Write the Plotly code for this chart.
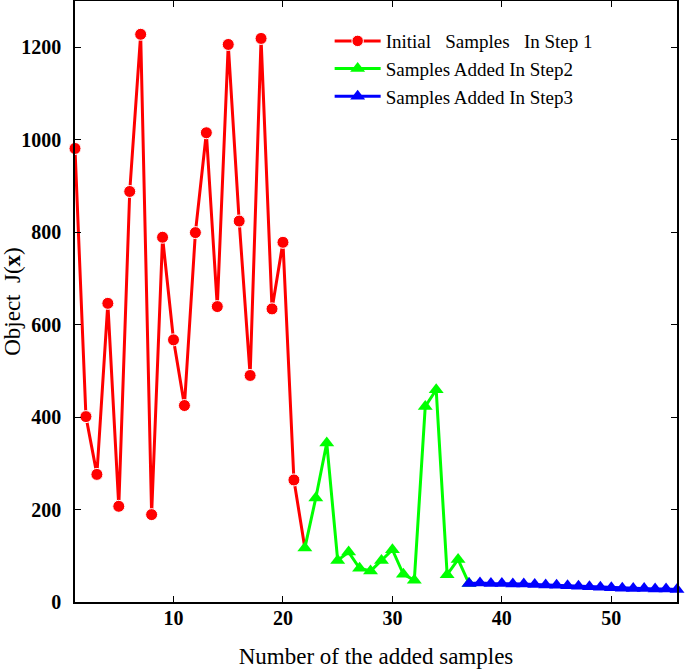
import plotly.graph_objects as go

# Step 1 (initial samples)
x_step1 = list(range(1, 23))
y_step1 = [981, 401, 276, 646, 207, 888, 1228, 189, 789, 567, 425,
           799, 1015, 639, 1206, 824, 490, 1219, 634, 778, 264, 117]

# Step 2 (added samples)
x_step2 = list(range(22, 38))
y_step2 = [117, 225, 344, 90, 108, 73, 67, 90, 113, 60, 47,
           423, 459, 59, 92, 40]

# Step 3 (added samples)
x_step3 = list(range(37, 57))
y_step3 = [40, 41, 40, 40, 39, 39, 38, 37, 36, 35,
           34, 33, 32, 31, 30, 29, 29, 28, 28, 27]

x_ticks = [10, 20, 30, 40, 50]
y_ticks = [0, 200, 400, 600, 800, 1000, 1200]

names = ["Initial\u00a0\u00a0\u00a0Samples\u00a0\u00a0\u00a0In Step 1",
         "Samples Added In Step2",
         "Samples Added In Step3"]

font_family = "Liberation Serif, Times New Roman, serif"

# the last step-1 point is the joint with step 2: no circle drawn there
red_sizes = [12] * (len(x_step1) - 1) + [0]

fig = go.Figure()
fig.add_trace(go.Scatter(
    x=x_step1, y=y_step1, mode="lines+markers", name=names[0],
    line=dict(color="#ff0000", width=3),
    marker=dict(symbol="circle", size=red_sizes, color="#ff0000", opacity=1),
    cliponaxis=False))
fig.add_trace(go.Scatter(
    x=x_step2, y=y_step2, mode="lines+markers", name=names[1],
    line=dict(color="#00ff00", width=3),
    marker=dict(symbol="triangle-up", size=13, color="#00ff00"),
    cliponaxis=False))
fig.add_trace(go.Scatter(
    x=x_step3, y=y_step3, mode="lines+markers", name=names[2],
    line=dict(color="#0000ff", width=3),
    marker=dict(symbol="triangle-up", size=13, color="#0000ff"),
    cliponaxis=False))

axis_common = dict(
    showline=True, linecolor="black", linewidth=1.5, mirror="ticks",
    ticks="inside", ticklen=6, tickcolor="black", tickwidth=1.2,
    showgrid=False, zeroline=False, automargin=False,
    tickfont=dict(family=font_family, size=20, color="black", weight="bold"),
)

fig.update_xaxes(
    range=[1, 56], tickvals=x_ticks, ticktext=[str(v) for v in x_ticks],
    title=dict(text="Number of the added samples",
               font=dict(family=font_family, size=23, color="black"),
               standoff=20),
    ticklabelstandoff=-3,
    **axis_common)
fig.update_yaxes(
    range=[0, 1300], tickvals=y_ticks, ticktext=[str(v) for v in y_ticks],
    title=dict(text="Object\u00a0 J(<b>x</b>)",
               font=dict(family=font_family, size=23, color="black"),
               standoff=5),
    ticklabelstandoff=8,
    **axis_common)

fig.update_layout(
    width=685, height=670,
    margin=dict(l=75, r=8, t=1, b=68, autoexpand=False),
    paper_bgcolor="white", plot_bgcolor="white",
    showlegend=True,
    legend=dict(x=0.423, y=0.965, xanchor="left", yanchor="top",
                bgcolor="rgba(0,0,0,0)", borderwidth=0,
                font=dict(family=font_family, size=19, color="black"),
                tracegroupgap=0, itemwidth=46),
    font=dict(family=font_family),
)

fig.write_html("out.html",
               config={"displayModeBar": False},
               post_script="document.body.style.margin='0';")
